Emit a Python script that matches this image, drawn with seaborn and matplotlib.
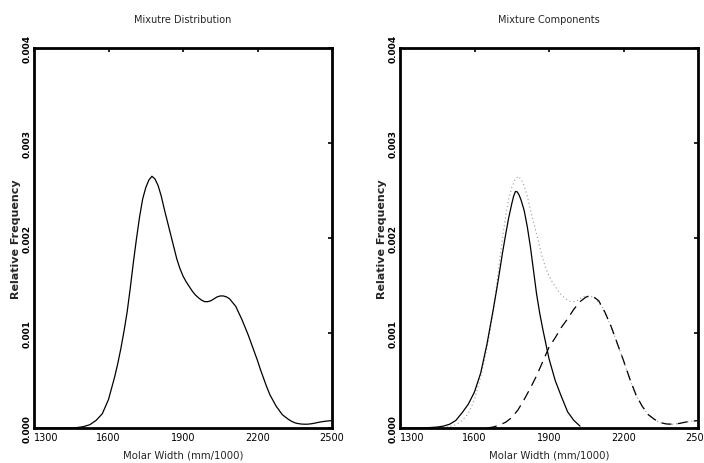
import numpy as np
import pandas as pd
import matplotlib
matplotlib.use("Agg")
import matplotlib.pyplot as plt
import seaborn as sns

# ---- data (y in units of 1e-3) ----
mix_x = [1300, 1350, 1400, 1450, 1475, 1500, 1525, 1550, 1575, 1600, 1625, 1637.5,
         1650, 1662.5, 1675, 1687.5, 1700, 1712.5, 1725, 1737.5, 1750, 1762.5,
         1775, 1787.5, 1800, 1812.5, 1825, 1837.5, 1850, 1862.5, 1875, 1887.5,
         1900, 1912.5, 1925, 1937.5, 1950, 1962.5, 1975, 1987.5, 2000, 2012.5,
         2025, 2037.5, 2050, 2062.5, 2075, 2087.5, 2100, 2112.5, 2125, 2137.5,
         2150, 2162.5, 2175, 2187.5, 2200, 2212.5, 2225, 2237.5, 2250, 2275,
         2300, 2325, 2337.5, 2350, 2362.5, 2375, 2387.5, 2400, 2412.5, 2425,
         2450, 2475, 2500]
mix_y = [0.0, 0.0, 0.0, 0.002, 0.005, 0.015, 0.035, 0.08, 0.15, 0.30, 0.54, 0.68,
         0.84, 1.02, 1.22, 1.47, 1.74, 1.99, 2.22, 2.41, 2.53, 2.61,
         2.65, 2.62, 2.55, 2.44, 2.30, 2.17, 2.04, 1.91, 1.78, 1.68,
         1.60, 1.54, 1.49, 1.44, 1.40, 1.37, 1.345, 1.33, 1.33, 1.34,
         1.36, 1.38, 1.39, 1.39, 1.38, 1.36, 1.32, 1.28, 1.21, 1.14,
         1.06, 0.98, 0.89, 0.80, 0.71, 0.61, 0.52, 0.43, 0.35, 0.23,
         0.14, 0.09, 0.07, 0.055, 0.047, 0.042, 0.040, 0.040, 0.043, 0.048,
         0.062, 0.072, 0.078]

comp1_x = [1300, 1400, 1450, 1475, 1500, 1525, 1550, 1575, 1600, 1625, 1650, 1662.5,
           1675, 1687.5, 1700, 1712.5, 1725, 1737.5, 1750, 1757.5, 1765, 1772.5,
           1780, 1787.5, 1800, 1812.5, 1825, 1837.5, 1850, 1862.5, 1875, 1900,
           1925, 1950, 1975, 2000, 2025]
comp1_y = [0.0, 0.001, 0.01, 0.02, 0.04, 0.08, 0.16, 0.25, 0.38, 0.58, 0.88, 1.06,
           1.24, 1.43, 1.63, 1.84, 2.03, 2.21, 2.36, 2.44, 2.49, 2.485,
           2.45, 2.40, 2.29, 2.12, 1.91, 1.66, 1.41, 1.21, 1.04, 0.73,
           0.50, 0.33, 0.17, 0.08, 0.02]

comp2_x = [1650, 1675, 1700, 1725, 1750, 1775, 1800, 1825, 1850, 1875, 1900, 1925,
           1950, 1975, 2000, 2025, 2050, 2075, 2100, 2125, 2150, 2175, 2200, 2225,
           2250, 2275, 2300, 2325, 2350, 2375, 2400, 2425, 2450, 2475, 2500]
comp2_y = [0.0, 0.01, 0.03, 0.06, 0.11, 0.19, 0.30, 0.42, 0.55, 0.70, 0.85, 0.95,
           1.06, 1.15, 1.25, 1.33, 1.38, 1.39, 1.34, 1.22, 1.07, 0.89, 0.71, 0.52,
           0.35, 0.23, 0.14, 0.09, 0.055, 0.042, 0.040, 0.048, 0.062, 0.072, 0.078]

x_ticks = [1300, 1600, 1900, 2200, 2500]
y_ticks = [0.000, 0.001, 0.002, 0.003, 0.004]
y_tick_labels = ["0.000", "0.001", "0.002", "0.003", "0.004"]
titles = ["Mixutre Distribution", "Mixture Components"]
x_label = "Molar Width (mm/1000)"
y_label = "Relative Frequency"

mix = pd.DataFrame({"x": mix_x, "y": np.array(mix_y) * 1e-3})
c1 = pd.DataFrame({"x": comp1_x, "y": np.array(comp1_y) * 1e-3})
c2 = pd.DataFrame({"x": comp2_x, "y": np.array(comp2_y) * 1e-3})

sns.set_theme(style="white")
plt.rcParams["font.family"] = ["DejaVu Sans"]

fig = plt.figure(figsize=(7.04, 4.64), dpi=100)
ax1 = fig.add_axes([34 / 704, 35 / 464, 298 / 704, 380 / 464])
ax2 = fig.add_axes([400 / 704, 35 / 464, 298 / 704, 380 / 464])

sns.lineplot(data=mix, x="x", y="y", ax=ax1, color="black", linewidth=0.9)
sns.lineplot(data=mix, x="x", y="y", ax=ax2, color="#999999", linewidth=0.8,
             linestyle=(0, (1, 2.5)))
sns.lineplot(data=c1, x="x", y="y", ax=ax2, color="black", linewidth=0.9)
sns.lineplot(data=c2, x="x", y="y", ax=ax2, color="black", linewidth=0.9,
             linestyle=(0, (8, 5)))

for ax, t in zip([ax1, ax2], titles):
    ax.set_xlim(1300, 2500)
    ax.set_ylim(0, 0.004)
    ax.set_xticks(x_ticks)
    ax.set_xticklabels([str(v) for v in x_ticks], fontsize=7)
    ax.get_xticklabels()[0].set_horizontalalignment("left")
    ax.set_yticks(y_ticks)
    ax.set_yticklabels(y_tick_labels, rotation=90, va="center", fontsize=6.5,
                       fontweight="bold")
    ax.tick_params(direction="in", length=3, width=1.2, top=True, right=True,
                   colors="black", pad=3)
    ax.tick_params(axis="y", pad=2)
    for s in ax.spines.values():
        s.set_visible(True)
        s.set_linewidth(2.0)
        s.set_color("black")
    ax.set_title(t, fontsize=7, pad=19)
    ax.set_xlabel(x_label, fontsize=7.3, labelpad=5)
    ax.set_ylabel(y_label, fontsize=8, labelpad=1, fontweight="bold")
    ax.grid(False)

fig.savefig("out.png", dpi=100, facecolor="white")
